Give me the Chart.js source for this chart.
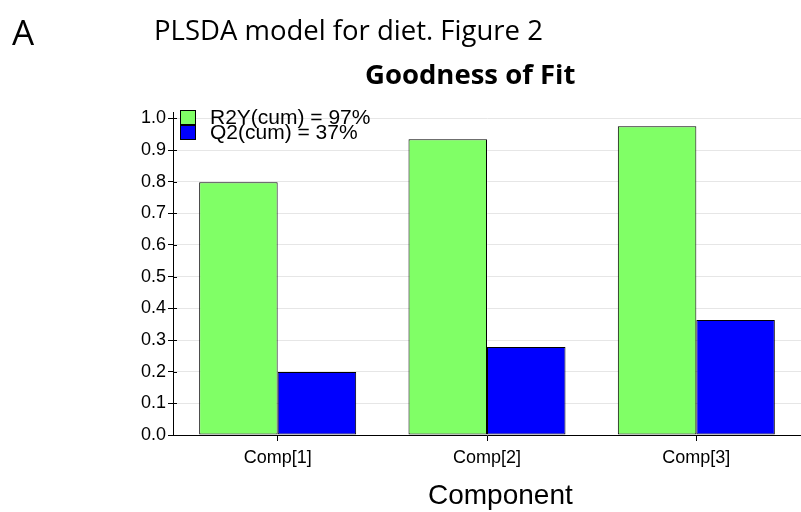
<!DOCTYPE html>
<html>
<head>
<meta charset="utf-8">
<script src="https://cdn.jsdelivr.net/npm/chart.js@4"></script>
<style>
  body { margin: 0; background: #fff; }
  #wrap { position: relative; width: 801px; height: 512px; }
  #chart { position: absolute; left: 0; top: 0; }
  .txt { position: absolute; white-space: nowrap; color: #000; }
</style>
</head>
<body>
<div id="wrap">
  <canvas id="chart" width="801" height="512"></canvas>
  <div class="txt" style="left:12px;top:8px;font:35px 'Open Sans',sans-serif;">A</div>
  <div class="txt" style="left:154px;top:11px;font:27.5px 'Open Sans',sans-serif;">PLSDA model for diet. Figure 2</div>
  <div class="txt" style="left:365px;top:55px;font:bold 27.5px 'Open Sans',sans-serif;">Goodness of Fit</div>
  <div class="txt" style="left:428px;top:479px;font:28px 'Liberation Sans',Arial,sans-serif;">Component</div>
</div>
<script>
const categories = ['Comp[1]', 'Comp[2]', 'Comp[3]'];
const r2yValues = [0.798, 0.934, 0.975];
const q2Values = [0.199, 0.278, 0.363];
const seriesNames = ['R2Y(cum) = 97%', 'Q2(cum) = 37%'];
const yTicks = [0, 0.1, 0.2, 0.3, 0.4, 0.5, 0.6, 0.7, 0.8, 0.9, 1.0];

// legend box in the top-left of the plot + tick marks poking into the plot
const boxLegend = {
  id: 'boxLegend',
  afterDraw(chart) {
    const ctx = chart.ctx;
    const ys = chart.scales.y;
    ctx.save();
    ctx.strokeStyle = '#000';
    ctx.lineWidth = 1;
    ys.ticks.forEach(t => {
      const py = Math.round(ys.getPixelForValue(t.value)) + 0.5;
      ctx.beginPath();
      ctx.moveTo(chart.chartArea.left, py);
      ctx.lineTo(chart.chartArea.left + 4, py);
      ctx.stroke();
    });
    const x = chart.chartArea.left + 7;
    let y = 110;
    ctx.font = '21px "Liberation Sans", Arial, sans-serif';
    ctx.textBaseline = 'middle';
    chart.data.datasets.forEach(ds => {
      ctx.fillStyle = ds.backgroundColor;
      ctx.fillRect(x, y, 15, 14);
      ctx.strokeRect(x + 0.5, y + 0.5, 15, 14);
      ctx.fillStyle = '#000';
      ctx.fillText(ds.label, x + 30, y + 8);
      y += 15;
    });
    ctx.restore();
  }
};

new Chart(document.getElementById('chart'), {
  type: 'bar',
  data: {
    labels: categories,
    datasets: [
      { label: seriesNames[0], data: r2yValues, backgroundColor: '#80ff66', borderColor: '#000', borderWidth: 1, borderSkipped: false },
      { label: seriesNames[1], data: q2Values, backgroundColor: '#0000ff', borderColor: '#000', borderWidth: 1, borderSkipped: false }
    ]
  },
  options: {
    responsive: false,
    animation: false,
    layout: { padding: { top: 112, right: 0, left: 0, bottom: 0 } },
    plugins: { legend: { display: false }, tooltip: { enabled: false } },
    datasets: { bar: { categoryPercentage: 0.75, barPercentage: 1 } },
    scales: {
      x: {
        border: { color: '#000' },
        grid: { offset: false, drawOnChartArea: false, tickLength: 6, tickColor: '#000' },
        ticks: { color: '#000', font: { family: '"Liberation Sans", Arial', size: 18 }, padding: 6 },
        afterFit(s) { s.height = 77; }
      },
      y: {
        min: 0,
        max: 1.02,
        border: { color: '#000' },
        afterBuildTicks(s) {
          const t = [];
          for (let i = 0; i <= 20; i++) t.push({ value: i * 0.05 });
          s.ticks = t;
        },
        grid: {
          color: c => (Math.round(c.tick.value * 100) % 10 === 0 && c.tick.value > 0) ? '#e6e6e6' : 'rgba(0,0,0,0)',
          tickColor: '#000',
          tickLength: 5
        },
        ticks: {
          color: '#000',
          font: { family: '"Liberation Sans", Arial', size: 18 },
          padding: 2,
          callback: v => {
            const r = Math.round(v * 100);
            return r % 10 === 0 ? yTicks[r / 10].toFixed(1) : '';
          }
        },
        afterFit(s) { s.width = 173; }
      }
    }
  },
  plugins: [boxLegend]
});
</script>
</body>
</html>
